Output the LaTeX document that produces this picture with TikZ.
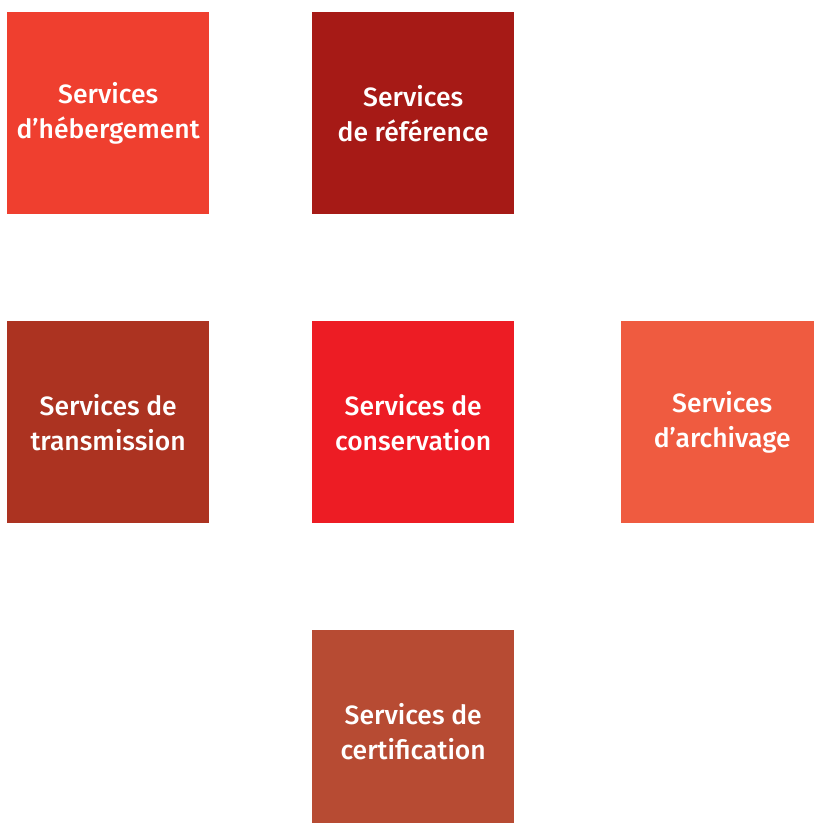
\documentclass[tikz,border=0pt]{standalone}
\usepackage{fontspec}
\setmainfont{Fira Sans}[UprightFont=* Medium]
\usetikzlibrary{matrix}
\definecolor{hosting}{HTML}{EF3F2F}
\definecolor{reference}{HTML}{A61A16}
\definecolor{transmission}{HTML}{AC3321}
\definecolor{conservation}{HTML}{ED1C24}
\definecolor{archiving}{HTML}{EF5B40}
\definecolor{certification}{HTML}{B74B33}
\tikzset{
1/.style={fill=hosting},
2/.style={fill=reference},
3/.style={fill=transmission},
4/.style={fill=conservation},
5/.style={fill=archiving},
6/.style={fill=certification},
}

\begin{document}
\begin{tikzpicture}[x=1pt,y=1pt]
\useasboundingbox (0,0) rectangle (814,-823);
\clip (0,0) rectangle (814,-823);
\matrix(m)[matrix of nodes,column sep=103pt, row sep=107pt, inner sep=0pt,
anchor=north west,
nodes={rectangle, minimum size=202pt, inner sep=0pt, anchor=center, align=center, text=white,
font=\fontsize{26.5}{35}\selectfont},
] at (7,-12) {
\node[1](hosting){Services\\d’hébergement}; & \node[2](reference){Services\\de référence}; &[4pt] \\
\node[3](transmission){Services de\\transmission}; & \node[4](conservation){Services de\\conservation}; &[4pt] \node[5](archiving){Services\\d’archivage};\\
 & \node[6](certification){Services de\\certification}; &[4pt] \\
};
\end{tikzpicture}
\end{document}
